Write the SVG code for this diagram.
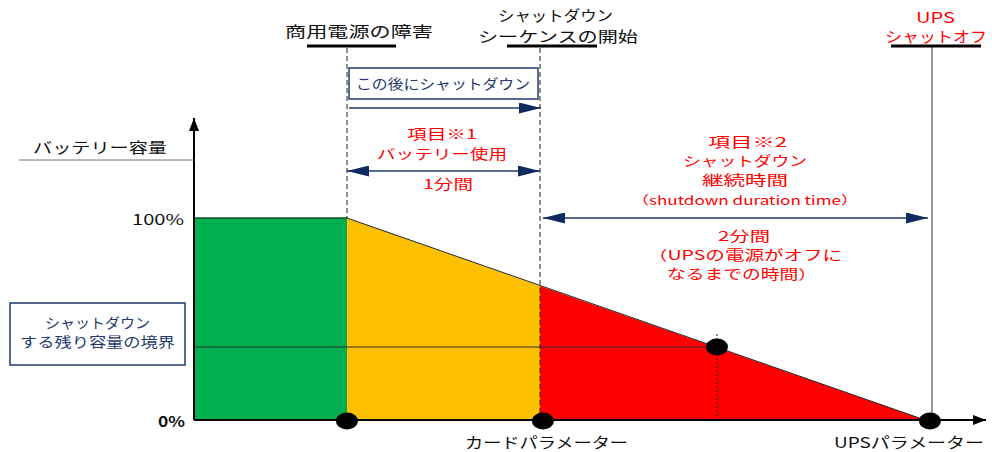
<svg xmlns="http://www.w3.org/2000/svg" width="992" height="452" viewBox="0 0 992 452">
<style>
text{font-family:"Noto Sans CJK JP","Liberation Sans",sans-serif;}
.blk{fill:#111;font-size:15px;text-anchor:start;}
.red{fill:#FF0000;font-size:13.5px;}
.nav{fill:#1F3A6E;font-size:14px;}
.dash{stroke:#222;stroke-width:1;stroke-dasharray:5,3;fill:none;}
.nv{stroke:#1F3A6E;stroke-width:1.5;fill:none;}
.ul{stroke:#000;stroke-width:3;}
</style>
<defs>
<marker id="ah" viewBox="0 0 22 11" refX="22" refY="5.5" markerWidth="22" markerHeight="11" markerUnits="userSpaceOnUse" orient="auto-start-reverse"><path d="M0,0L22,5.5L0,11z" fill="#0F2A5E"/></marker>
<marker id="ak" viewBox="0 0 13 10" refX="13" refY="5" markerWidth="13" markerHeight="10" markerUnits="userSpaceOnUse" orient="auto"><path d="M0,0L13,5L0,10z" fill="#000"/></marker>
</defs>
<rect width="992" height="452" fill="#fff"/>
<g id="areas">
<rect x="194" y="218" width="153" height="202" fill="#00B050"/>
<polygon points="347,218 540,286 540,420 347,420" fill="#FFC000"/>
<polygon points="540,286 925,420 540,420" fill="#FF0000"/>
<line x1="194" y1="218" x2="347" y2="218" stroke="#1a4d2a" stroke-width="1.5"/>
<line x1="347" y1="218" x2="925" y2="420" stroke="#222" stroke-width="1"/>
</g>
<g id="connectors">
<line x1="194" y1="420" x2="194" y2="118" stroke="#000" stroke-width="2" marker-end="url(#ak)"/>
<line x1="194" y1="420" x2="986" y2="420" stroke="#000" stroke-width="2" marker-end="url(#ak)"/>
<line x1="19" y1="160" x2="194" y2="160" stroke="#777" stroke-width="1"/>
<line x1="194" y1="347" x2="717" y2="347" stroke="#333" stroke-width="1"/>
<line x1="717" y1="334" x2="717" y2="420" stroke="#222" stroke-width="1" stroke-dasharray="2,2"/>
<line class="dash" x1="347" y1="48" x2="347" y2="218"/>
<line class="dash" x1="540" y1="48" x2="540" y2="420"/>
<line x1="932" y1="47" x2="932" y2="420" stroke="#555" stroke-width="1.2"/>
<line class="nv" x1="349" y1="108" x2="541" y2="108" marker-end="url(#ah)"/>
<line class="nv" x1="347" y1="171" x2="540" y2="171" marker-start="url(#ah)" marker-end="url(#ah)"/>
<line class="nv" x1="543" y1="218" x2="928" y2="218" marker-start="url(#ah)" marker-end="url(#ah)"/>
</g>
<g id="dots" fill="#000">
<ellipse cx="347" cy="421" rx="11" ry="8.5"/>
<ellipse cx="543" cy="421" rx="11" ry="8.5"/>
<ellipse cx="717" cy="347" rx="11" ry="8.5"/>
<ellipse cx="930" cy="421" rx="11" ry="8.5"/>
</g>
<g id="label-power-failure">
<text class="blk" x="285" y="37" textLength="148" lengthAdjust="spacingAndGlyphs">商用電源の障害</text>
<line class="ul" x1="307" y1="46" x2="396" y2="46"/>
</g>
<g id="label-shutdown-start">
<text class="blk" x="498" y="21" textLength="115" lengthAdjust="spacingAndGlyphs">シャットダウン</text>
<text class="blk" x="478" y="42" textLength="160" lengthAdjust="spacingAndGlyphs">シーケンスの開始</text>
<line class="ul" x1="507" y1="46" x2="597" y2="46"/>
</g>
<g id="label-ups-off">
<text class="red" x="916" y="23" textLength="39" lengthAdjust="spacingAndGlyphs" style="font-size:15px">UPS</text>
<text class="red" x="885" y="42" textLength="102" lengthAdjust="spacingAndGlyphs" style="font-size:15px">シャットオフ</text>
<line class="ul" x1="891" y1="46" x2="981" y2="46"/>
</g>
<g id="box-after">
<rect x="349" y="68" width="189" height="31" fill="#fff" stroke="#1F3A6E" stroke-width="1.5"/>
<text class="nav" x="356" y="89" textLength="174" lengthAdjust="spacingAndGlyphs">この後にシャットダウン</text>
</g>
<g id="item1">
<text class="red" x="407" y="139" textLength="70" lengthAdjust="spacingAndGlyphs">項目※1</text>
<text class="red" x="377" y="159" textLength="130" lengthAdjust="spacingAndGlyphs">バッテリー使用</text>
<text class="red" x="423" y="189" textLength="50" lengthAdjust="spacingAndGlyphs">1分間</text>
</g>
<g id="item2">
<text class="red" x="708" y="147" textLength="79" lengthAdjust="spacingAndGlyphs">項目※2</text>
<text class="red" x="683" y="166" textLength="124" lengthAdjust="spacingAndGlyphs">シャットダウン</text>
<text class="red" x="702" y="185" textLength="86" lengthAdjust="spacingAndGlyphs">継続時間</text>
<text class="red" x="632" y="205" textLength="226" lengthAdjust="spacingAndGlyphs" style="font-size:12px">（shutdown duration time）</text>
<text class="red" x="718" y="241" textLength="52" lengthAdjust="spacingAndGlyphs">2分間</text>
<text class="red" x="648" y="260" textLength="194" lengthAdjust="spacingAndGlyphs">（UPSの電源がオフに</text>
<text class="red" x="667" y="279" textLength="150" lengthAdjust="spacingAndGlyphs">なるまでの時間）</text>
</g>
<g id="axis-labels">
<text class="blk" x="33" y="153" textLength="134" lengthAdjust="spacingAndGlyphs">バッテリー容量</text>
<text class="blk" x="132" y="225" textLength="52" lengthAdjust="spacingAndGlyphs">100%</text>
<text class="blk" x="158" y="427" textLength="27" lengthAdjust="spacingAndGlyphs" style="font-weight:bold">0%</text>
</g>
<g id="box-threshold">
<rect x="10" y="303" width="175" height="62" fill="#fff" stroke="#1F3A6E" stroke-width="1.5"/>
<text class="nav" x="45" y="328" textLength="105" lengthAdjust="spacingAndGlyphs">シャットダウン</text>
<text class="nav" x="20" y="347" textLength="155" lengthAdjust="spacingAndGlyphs">する残り容量の境界</text>
</g>
<g id="bottom-labels">
<text class="blk" x="465" y="448" textLength="163" lengthAdjust="spacingAndGlyphs">カードパラメーター</text>
<text class="blk" x="834" y="448" textLength="150" lengthAdjust="spacingAndGlyphs">UPSパラメーター</text>
</g>
</svg>
